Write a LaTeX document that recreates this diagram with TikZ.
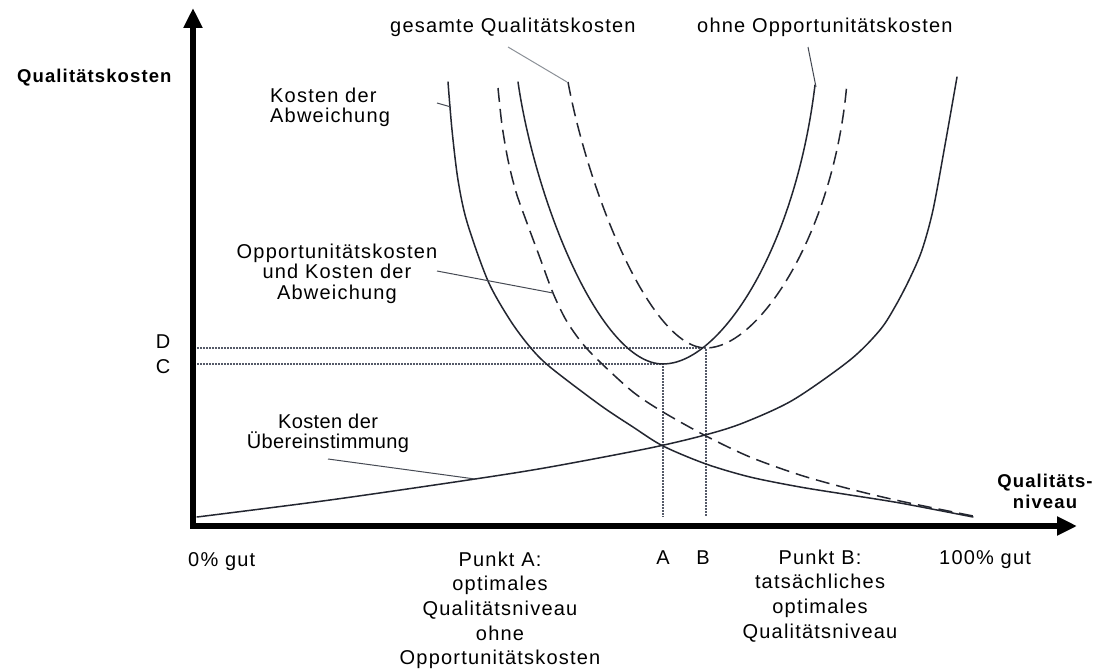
\documentclass[tikz,border=0pt]{standalone}
\usepackage{fontspec}
\setmainfont{Liberation Sans}[LetterSpace=6]
\newfontfamily\tightfont{Liberation Sans}[LetterSpace=2]
\usetikzlibrary{arrows.meta}
\definecolor{ink}{RGB}{35,38,48}
\definecolor{leadc}{RGB}{70,74,84}
\definecolor{leadlight}{RGB}{140,145,152}
\definecolor{dotc}{RGB}{85,90,104}
\begin{document}
\begin{tikzpicture}[x=1pt,y=-1pt,
  lbl/.style={font=\fontsize{20}{20.5}\selectfont, inner sep=0pt, text=black},
  lblwide/.style={font=\fontsize{20}{24.7}\selectfont, inner sep=0pt, text=black},
  lblbold/.style={font=\fontsize{18.5}{21}\selectfont\bfseries, inner sep=0pt, text=black},
  curve/.style={draw=ink, line width=1.5pt, line cap=round},
  dashcurve/.style={curve, dash pattern=on 14pt off 7pt, line cap=butt},
  leader/.style={draw=leadc, line width=1pt},
  leaderlight/.style={draw=leadlight, line width=1pt},
  guide/.style={draw=dotc, line width=1.8pt, dash pattern=on 1.5pt off 1.5pt},
  axis/.style={draw=black, line width=5.5pt, line join=miter,
    {Triangle[length=20pt,width=18pt]}-{Triangle[length=20pt,width=18pt]}}
]
\useasboundingbox (0,0) rectangle (1095,669);
\fill[white] (0,0) rectangle (1095,669);

% axes
\coordinate (O) at (193,526);
\coordinate (ytip) at (193,8);
\coordinate (xtip) at (1077,526);
\draw[axis] (ytip) -- (O) -- (xtip);

% guide lines
\coordinate (Dl) at (197,348);
\coordinate (Cl) at (197,364);
\coordinate (Bpt) at (706,348);
\coordinate (Apt) at (663,364);
\coordinate (Abot) at (663,517);
\coordinate (Bbot) at (706,517);
\draw[guide] (Dl) -- (Bpt) -- (Bbot);
\draw[guide] (Cl) -- (Apt) -- (Abot);

% Kosten der Abweichung (solid, falling)
\draw[curve] plot[smooth, tension=0.5] coordinates {
 (448,82) (452,130) (458,180) (467,222) (488,281) (510,320) (530,347) (550,367)
 (600,405) (633,427) (663,446) (706,464) (750,477) (800,487) (850,495) (900,503) (973,517)};
% Opportunitaetskosten und Kosten der Abweichung (dashed, falling)
\draw[dashcurve] plot[smooth, tension=0.5] coordinates {
 (498,88) (502,125) (508,160) (516,192) (527,223) (540,258) (553,293) (566,320)
 (582,343) (600,362) (633,392) (663,412) (706,436) (750,457) (800,475) (850,489)
 (900,501) (973,516)};
% ohne Opportunitaetskosten (solid U)
\draw[curve] (518,82) .. controls (535,200) and (600,364) .. (663,364)
  .. controls (720,364) and (795,250) .. (815,85);
% gesamte Qualitaetskosten (dashed U)
\draw[dashcurve] (568,82) .. controls (588,190) and (650,348) .. (706,348)
  .. controls (760,348) and (835,230) .. (847,82);
% Kosten der Uebereinstimmung (solid, rising)
\draw[curve] plot[smooth, tension=0.5] coordinates {
 (197,517) (330,500) (475,479) (550,467) (650,448) (705,435) (743,423) (793,400)
 (850,360) (880,330) (896,305) (910,278) (922,250) (933,210) (945,145) (957,77)};

% labels
\node[lblbold, anchor=base west] (ylab) at (17,82) {Qualitätskosten};
\node[lbl, anchor=base west] (ges) at (390,33) {gesamte Qualitätskosten};
\node[lbl, anchor=base west] (ohne) at (697,33) {ohne Opportunitätskosten};
\node[lbl, anchor=base west, align=left] (kda) at (270,122.5) {Kosten der\\Abweichung};
\node[lbl, anchor=base, align=center] (okda) at (337,299) {Opportunitätskosten\\und Kosten der\\Abweichung};
\node[lbl, font=\fontsize{20}{20}\tightfont, anchor=base, align=center] (kdu) at (328,448) {Kosten der\\Übereinstimmung};
\node[lbl, anchor=base] (Dlab) at (163,348) {D};
\node[lbl, anchor=base] (Clab) at (163,373) {C};
\node[lblbold, anchor=base, align=center] (xlab) at (1045,508) {Qualitäts-\\niveau};
\node[lblwide, anchor=base west] (nullp) at (188,566) {0\% gut};
\node[lblwide, anchor=base, align=center] (pA) at (500,664.8) {Punkt A:\\optimales\\Qualitätsniveau\\ohne\\Opportunitätskosten};
\node[lblwide, anchor=base] (Alab) at (663,564) {A};
\node[lblwide, anchor=base] (Blab) at (703,564) {B};
\node[lblwide, anchor=base, align=center] (pB) at (820,638.1) {Punkt B:\\tatsächliches\\optimales\\Qualitätsniveau};
\node[lblwide, anchor=base west] (hundert) at (939,564) {100\% gut};

% leaders
\coordinate (gesS) at (508,47);
\coordinate (gesE) at (567,82);
\coordinate (ohneS) at (808,47);
\coordinate (ohneE) at (816,87);
\coordinate (kdaS) at (437,103);
\coordinate (kdaE) at (451,107);
\coordinate (okdaS) at (437,271);
\coordinate (okdaE) at (553,293);
\coordinate (kduS) at (328,459);
\coordinate (kduE) at (475,479);
\draw[leaderlight] (gesS) -- (gesE);
\draw[leader] (ohneS) -- (ohneE);
\draw[leader] (kdaS) -- (kdaE);
\draw[leader] (okdaS) -- (okdaE);
\draw[leader] (kduS) -- (kduE);
\end{tikzpicture}
\end{document}
